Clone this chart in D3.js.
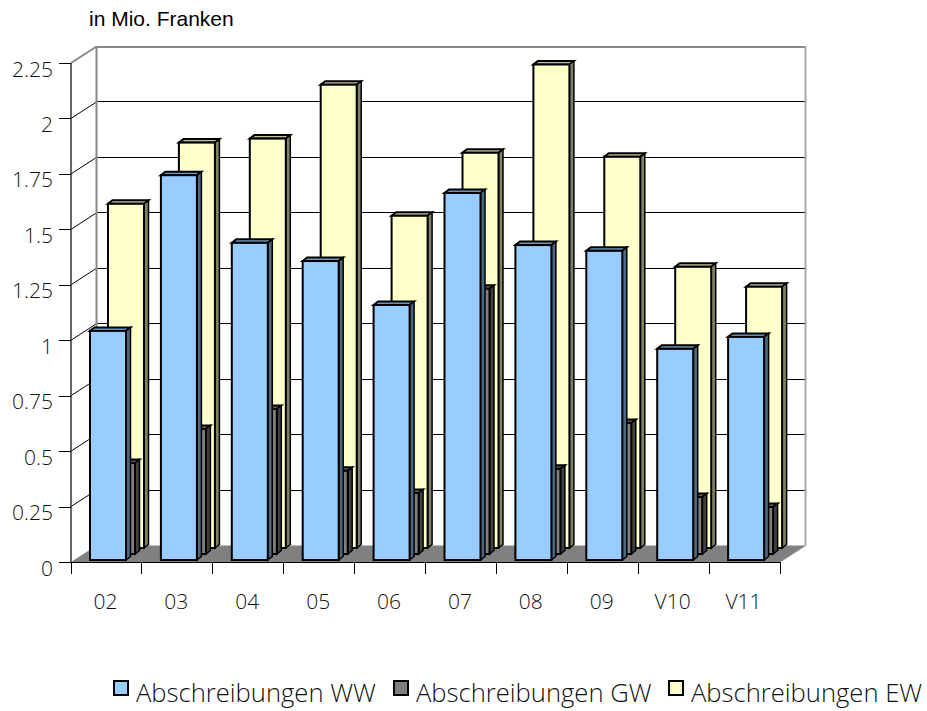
<!DOCTYPE html>
<html><head><meta charset="utf-8">
<script src="https://cdn.jsdelivr.net/npm/d3@7"></script>
<style>html,body{margin:0;background:#fff}svg{display:block}</style></head>
<body><svg id="c" width="927" height="711"></svg>
<script>
const categories=["02","03","04","05","06","07","08","09","V10","V11"];
const seriesNames=["Abschreibungen WW","Abschreibungen GW","Abschreibungen EW"];
const valuesWW=[1.033,1.735,1.43,1.348,1.15,1.655,1.42,1.394,0.952,1.006];
const valuesGW=[0.41,0.564,0.654,0.375,0.275,1.196,0.384,0.591,0.257,0.212];
const valuesEW=[1.552,1.828,1.846,2.089,1.498,1.782,2.18,1.764,1.268,1.178];
const yTicks=[0,0.25,0.5,0.75,1,1.25,1.5,1.75,2,2.25];
const yTickLabels=["0","0.25","0.5","0.75","1","1.25","1.5","1.75","2","2.25"];
const unitLabel="in Mio. Franken";

const svg=d3.select("#c");
const FONT="'Open Sans','Noto Sans',sans-serif";
const x=d3.scaleBand().domain(categories).range([71,780]);
const y=d3.scaleLinear().domain([0,2.25]).range([562,63]);
const dx=25.5,dy=-16.5;
const poly=(pts)=>pts.map(p=>p.join(",")).join(" ");
const L=x.range()[0],R=x.range()[1],Y0=y(0),Yt=y(2.25);

// floor
svg.append("polygon").attr("points",poly([[L,Y0],[R,Y0],[R+dx,Y0+dy],[L+dx,Y0+dy]])).attr("fill","#808080");
// gridlines: side wall + back wall
const grid=svg.append("g");
yTicks.forEach(t=>{
  const yy=y(t), top=t===2.25, c=top?"#888":"#000", w=top?2:1;
  if(t>0) grid.append("line").attr("x1",L).attr("y1",yy).attr("x2",L+dx).attr("y2",yy+dy).attr("stroke",c).attr("stroke-width",w);
  if(t>0) grid.append("line").attr("x1",L+dx).attr("y1",yy+dy).attr("x2",R+dx).attr("y2",yy+dy).attr("stroke",c).attr("stroke-width",w).attr("shape-rendering","crispEdges");
});
grid.append("line").attr("x1",L+dx).attr("y1",Yt+dy).attr("x2",L+dx).attr("y2",Y0+dy).attr("stroke","#888").attr("stroke-width",2);
grid.append("line").attr("x1",R+dx).attr("y1",Yt+dy).attr("x2",R+dx).attr("y2",Y0+dy).attr("stroke","#aaa").attr("stroke-width",2);
grid.append("line").attr("x1",R).attr("y1",Y0).attr("x2",R+dx).attr("y2",Y0+dy).attr("stroke","#888").attr("stroke-width",1);

// axes
const ax=svg.append("g").attr("transform",`translate(${L},0)`)
  .call(d3.axisLeft(y).tickValues(yTicks).tickSize(12).tickPadding(6).tickFormat((d,i)=>yTickLabels[i]));
ax.selectAll("line").attr("stroke","#000").attr("shape-rendering","crispEdges");
ax.select(".domain").attr("stroke","#333").attr("stroke-width",1.5).attr("d",`M0,${Yt}V${Y0}`);
ax.selectAll("text").attr("font-family",FONT).attr("font-size",21).attr("font-weight",300).attr("fill","#111").attr("dy","0.62em");

const bx=svg.append("g").attr("transform",`translate(0,${Y0})`)
  .call(d3.axisBottom(x).tickSize(0).tickPadding(32));
bx.select(".domain").attr("stroke","#000").attr("d",`M${L},0.5H${R}`);
bx.selectAll("text").attr("font-family",FONT).attr("font-size",21).attr("font-weight",300).attr("fill","#111").attr("dx",-1);
const edges=x.domain().map(d=>x(d)).concat([R]);
svg.append("g").selectAll("line").data(edges).join("line")
  .attr("x1",d=>d).attr("x2",d=>d).attr("y1",Y0).attr("y2",Y0+12).attr("stroke","#000").attr("shape-rendering","crispEdges");

// bars, back to front
const depth=4.5;
const layers=[
 {vals:valuesEW,ox:37,base:14,w:36,front:"#FFFFCC",side:"#808066",topc:"#BFBF99"},
 {vals:valuesGW,ox:28,base:8,w:36,front:"#808080",side:"#404040",topc:"#606060"},
 {vals:valuesWW,ox:19,base:2,w:36,front:"#99CCFF",side:"#4D6680",topc:"#7399BF"}
];
layers.forEach(l=>{
  const g=svg.append("g");
  const rows=categories.map((c,i)=>({x0:x(c)+l.ox,x1:x(c)+l.ox+l.w,yb:y(0)-l.base,yt:y(l.vals[i])-l.base}));
  g.selectAll("polygon.top").data(rows).join("polygon").attr("class","top")
    .attr("points",d=>poly([[d.x0,d.yt],[d.x0+depth,d.yt-3.5],[d.x1+depth,d.yt-3.5],[d.x1,d.yt]]))
    .attr("fill",l.topc).attr("stroke","#000").attr("stroke-width",2);
  g.selectAll("polygon.side").data(rows).join("polygon").attr("class","side")
    .attr("points",d=>poly([[d.x1,d.yt],[d.x1+depth,d.yt-3.5],[d.x1+depth,d.yb-3.5],[d.x1,d.yb]]))
    .attr("fill",l.side).attr("stroke","#000").attr("stroke-width",1.5);
  g.selectAll("rect").data(rows).join("rect")
    .attr("x",d=>d.x0).attr("y",d=>d.yt).attr("width",l.w).attr("height",d=>d.yb-d.yt)
    .attr("fill",l.front).attr("stroke","#000").attr("stroke-width",2);
});

// unit label
svg.append("text").attr("x",89).attr("y",26).text(unitLabel)
  .attr("font-family","'Liberation Sans',Arial,sans-serif").attr("font-size",21).attr("fill","#000");

// legend
const legX=[114,394,669], legColors=["#99CCFF","#808080","#FFFFCC"];
const leg=svg.append("g").selectAll("g").data(seriesNames).join("g")
  .attr("transform",(d,i)=>`translate(${legX[i]},0)`);
leg.append("rect").attr("x",0).attr("y",681).attr("width",14).attr("height",14)
  .attr("fill",(d,i)=>legColors[i]).attr("stroke","#000").attr("stroke-width",2);
leg.append("text").attr("x",22).attr("y",702).text(d=>d)
  .attr("font-family",FONT).attr("font-size",25.6).attr("font-weight",300).attr("fill","#111");
</script></body></html>
